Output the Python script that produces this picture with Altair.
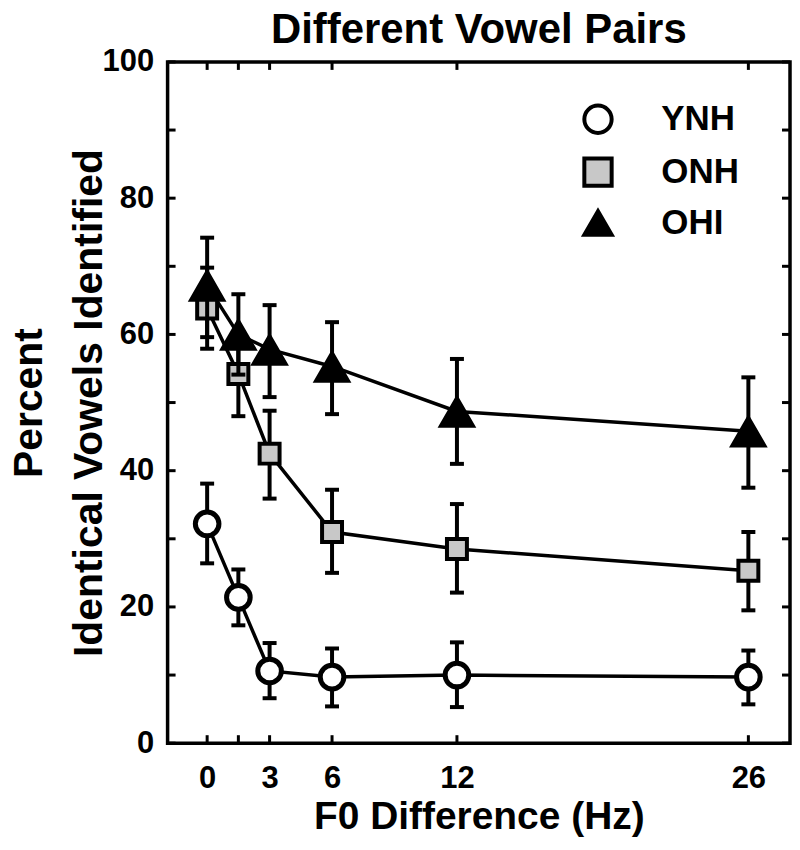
import altair as alt
import pandas as pd

# ---- data ----
f0 = [0, 1.5, 3, 6, 12, 26]
series = ["YNH", "ONH", "OHI"]

ynh_mean = [32.2, 21.4, 10.6, 9.7, 10.0, 9.7]
ynh_lo = [26.4, 17.3, 6.6, 5.4, 5.3, 5.7]
ynh_hi = [38.1, 25.5, 14.7, 13.9, 14.8, 13.6]

onh_mean = [63.8, 54.2, 42.5, 31.0, 28.5, 25.3]
onh_lo = [57.9, 48.0, 35.9, 25.0, 22.1, 19.5]
onh_hi = [69.8, 60.3, 48.8, 37.2, 35.1, 31.0]

ohi_mean = [67.2, 60.0, 57.8, 55.3, 48.7, 45.8]
ohi_lo = [59.6, 54.1, 50.8, 48.3, 41.0, 37.5]
ohi_hi = [74.2, 65.9, 64.3, 61.8, 56.4, 53.7]

x_tick_values = [0, 1.5, 3, 6, 12, 26]
x_label_values = [0, 3, 6, 12, 26]
y_tick_values = [0, 10, 20, 30, 40, 50, 60, 70, 80, 90, 100]
y_label_values = [0, 20, 40, 60, 80, 100]

# ---- styles ----
shapes = ["circle", "square", "triangle-up"]
fills = ["white", "#c8c8c8", "black"]
strokes = ["black", "black", "black"]
mark_sizes = [560, 400, 1250]
legend_sizes = [730, 530, 1500]
stroke_widths = [5, 4, 2]

rows = []
for name, m, lo, hi in [("YNH", ynh_mean, ynh_lo, ynh_hi),
                        ("ONH", onh_mean, onh_lo, onh_hi),
                        ("OHI", ohi_mean, ohi_lo, ohi_hi)]:
    for x, a, b, c in zip(f0, m, lo, hi):
        rows.append({"f0": x, "series": name, "mean": a, "lo": b, "hi": c})
df = pd.DataFrame(rows)

W, H = 624, 683
FONT = "Liberation Sans"


def case_expr(values):
    expr = str(values[-1])
    for s, v in zip(series[-2::-1], values[-2::-1]):
        expr = f"datum.value === '{s}' ? {v} : ({expr})"
    return expr


def build(use_encode):
    xscale = alt.Scale(domain=[-1.9, 28], nice=False, zero=False)
    yscale = alt.Scale(domain=[0, 100], nice=False)
    base = alt.Chart(df)

    xenc = alt.X("f0:Q", scale=xscale,
                 axis=alt.Axis(values=x_label_values, ticks=False, domain=False, grid=False,
                               labelPadding=20, title="F0 Difference (Hz)",
                               titleFontSize=39, titlePadding=5))
    yenc = alt.Y("mean:Q", scale=yscale,
                 axis=alt.Axis(values=y_label_values, ticks=False, domain=False, grid=False,
                               labelPadding=14, title=["Percent", "Identical Vowels Identified"],
                               titleFontSize=41, titlePadding=-8, titleLineHeight=60))

    lines = base.mark_line(color="black", strokeWidth=3.5).encode(
        x=xenc, y=yenc, detail="series:N")

    legend_kw = dict(orient="none", legendX=414, legendY=40, title=None,
                     labelFontSize=35, labelFont=FONT, labelFontWeight="bold",
                     labelColor="black", labelOffset=46, rowPadding=8, padding=0,
                     symbolStrokeWidth=4, symbolSize=750)
    if use_encode:
        legend_kw["encode"] = {"symbols": {"update": {
            "size": {"signal": case_expr(legend_sizes)},
            "strokeWidth": {"signal": case_expr(stroke_widths)},
        }}}
    legend = alt.Legend(**legend_kw)

    layers = [lines]
    for i, s in enumerate(series):
        sb = base.transform_filter(alt.datum.series == s)
        layers.append(sb.mark_rule(color="black", strokeWidth=4).encode(
            x="f0:Q", y="lo:Q", y2="hi:Q"))
        layers.append(sb.mark_rule(color="black", strokeWidth=4, xOffset=-7, x2Offset=7).encode(
            x="f0:Q", x2="f0:Q", y="lo:Q"))
        layers.append(sb.mark_rule(color="black", strokeWidth=4, xOffset=-7, x2Offset=7).encode(
            x="f0:Q", x2="f0:Q", y="hi:Q"))
        layers.append(sb.mark_point(filled=True, opacity=1, size=mark_sizes[i],
                                    strokeWidth=stroke_widths[i]).encode(
            x="f0:Q", y="mean:Q",
            shape=alt.Shape("series:N", scale=alt.Scale(domain=series, range=shapes), legend=legend, sort=series),
            fill=alt.Fill("series:N", scale=alt.Scale(domain=series, range=fills), legend=legend, sort=series),
            stroke=alt.Stroke("series:N", scale=alt.Scale(domain=series, range=strokes), legend=legend, sort=series),
        ))

    # inward tick marks on all four sides
    xt = alt.Chart(pd.DataFrame({"t": x_tick_values}))
    yt = alt.Chart(pd.DataFrame({"t": y_tick_values}))
    layers.append(xt.mark_rule(color="black", strokeWidth=3).encode(x="t:Q", y=alt.value(H), y2=alt.value(H - 8)))
    layers.append(xt.mark_rule(color="black", strokeWidth=3).encode(x="t:Q", y=alt.value(0), y2=alt.value(8)))
    layers.append(yt.mark_rule(color="black", strokeWidth=3).encode(y="t:Q", x=alt.value(0), x2=alt.value(8)))
    layers.append(yt.mark_rule(color="black", strokeWidth=3).encode(y="t:Q", x=alt.value(W), x2=alt.value(W - 8)))

    return alt.layer(*layers).properties(
        width=W, height=H,
        title=alt.Title("Different Vowel Pairs", fontSize=42, font=FONT, fontWeight="bold",
                        color="black", offset=-6, anchor="middle"),
        background="white",
        padding={"left": 0, "top": 0, "right": 0, "bottom": 0},
    ).configure_view(
        stroke="black", strokeWidth=3.5
    ).configure_axis(
        labelFont=FONT, labelFontWeight="bold", labelFontSize=31, labelColor="black",
        titleFont=FONT, titleFontWeight="bold", titleColor="black",
    )


try:
    chart = build(True)
    chart.to_dict()
except Exception:
    chart = build(False)

chart.save("out.html", embed_options={"renderer": "svg", "actions": False})
